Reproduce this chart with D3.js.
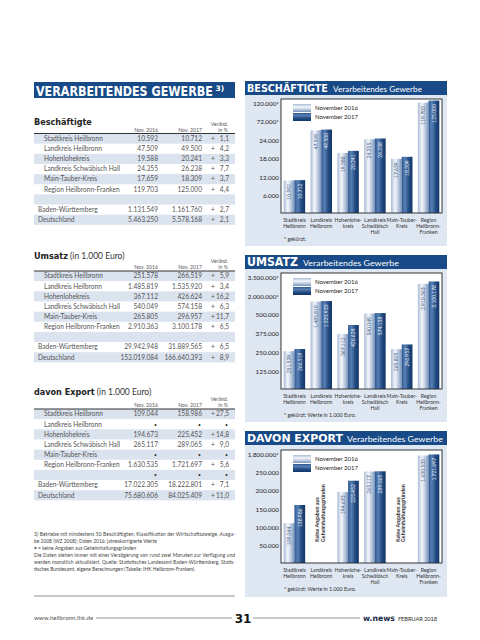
<!DOCTYPE html>
<html><head><meta charset="utf-8">
<script src="https://cdn.jsdelivr.net/npm/d3@7"></script>
<style>html,body{margin:0;padding:0;background:#fff;}svg{display:block;}</style>
</head><body>
<svg id="c" width="480" height="640"></svg>
<script>
// ---------- DATA ----------
const regions = ["Stadtkreis Heilbronn","Landkreis Heilbronn","Hohenlohekreis","Landkreis Schwäbisch Hall","Main-Tauber-Kreis","Region Heilbronn-Franken"];
const chartCategories = [["Stadtkreis","Heilbronn"],["Landkreis","Heilbronn"],["Hohenlohe-","kreis"],["Landkreis","Schwäbisch","Hall"],["Main-Tauber-","Kreis"],["Region","Heilbronn-","Franken"]];
const seriesNames = ["November 2016","November 2017"];
const totalsNames = ["Baden-Württemberg","Deutschland"];

const besch2016 = [10592,47509,19588,24355,17659,119703];
const besch2017 = [10712,49500,20241,26238,18309,125000];
const beschChange = [1.1,4.2,3.3,7.7,3.7,4.4];
const beschTot2016 = [1131549,5463250];
const beschTot2017 = [1161760,5578168];
const beschTotChange = [2.7,2.1];
const beschTicks = [6000,12000,18000,24000,72000,120000];
const beschTickLabels = ["6.000","12.000","18.000","24.000","72.000*","120.000*"];

const umsatz2016 = [251578,1485819,367112,540049,265805,2910363];
const umsatz2017 = [266519,1535920,426624,574158,296957,3100178];
const umsatzChange = [5.9,3.4,16.2,6.3,11.7,6.5];
const umsatzTot2016 = [29942948,153019084];
const umsatzTot2017 = [31889565,166640393];
const umsatzTotChange = [6.5,8.9];
const umsatzTicks = [125000,250000,375000,500000,2000000,3500000];
const umsatzTickLabels = ["125.000","250.000","375.000","500.000","2.000.000*","3.500.000*"];

const export2016 = [109044,null,194673,265117,null,1630535];
const export2017 = [158986,null,225452,289065,null,1721697];
const exportChange = [27.5,null,14.8,9.0,null,5.6];
const exportTot2016 = [17022305,75680606];
const exportTot2017 = [18222801,84025409];
const exportTotChange = [7.1,11.0];
const exportTicks = [50000,100000,150000,200000,250000,1800000];
const exportTickLabels = ["50.000","100.000","150.000","200.000","250.000","1.800.000*"];

const footnoteLines = [
 "3)   Betriebe mit mindestens 50 Beschäftigten, Klassifikation der Wirtschaftszweige, Ausga-",
 "be 2008 (WZ 2008); Daten 2016: jahreskorrigierte Werte",
 "• =  keine Angaben aus Geheimhaltungsgründen",
 "Die Daten stehen immer mit einer Verzögerung von rund zwei Monaten zur Verfügung und",
 "werden monatlich aktualisiert. Quelle: Statistisches Landesamt Baden-Württemberg, Statis-",
 "tisches Bundesamt, eigene Berechnungen (Tabelle: IHK Heilbronn-Franken)."
];

// ---------- SETUP ----------
const loc = d3.formatLocale({decimal:",",thousands:".",grouping:[3],currency:["","€"]});
const fInt = loc.format(",d");
const fPct = loc.format(",.1f");
const svg = d3.select("#c");
const FONT = "Lato, 'Open Sans', sans-serif";
const HEAD = "'DejaVu Sans', sans-serif";
const BLUE = "#174a86";
const PANEL = "#dfe7f2";
const SHADE = "#dbe3ef";
const TXT = "#5a5a5a";

// horizontally scale a text so its rendered width equals w (keeps bbox honest)
function fitWidth(sel, x, w){
  const n = sel.node().getComputedTextLength();
  if(n>0) sel.attr("transform",`translate(${x},0) scale(${w/n},1) translate(${-x},0)`);
  return sel;
}

const defs = svg.append("defs");
function grad(id, stops, vertical){
  const g = defs.append("linearGradient").attr("id",id)
    .attr("x1",0).attr("y1",0).attr("x2",vertical?0:1).attr("y2",vertical?1:0);
  stops.forEach(s=>g.append("stop").attr("offset",s[0]).attr("stop-color",s[1]));
}
const lightStops = [[0,"#a9bbd5"],[0.38,"#f4f7fb"],[0.7,"#b9c8dd"],[1,"#7892b9"]];
const darkStops = [[0,"#2b5790"],[0.3,"#5a80b3"],[0.65,"#234d85"],[1,"#123566"]];
grad("g16", lightStops, false);
grad("g17", darkStops, false);
grad("s16", lightStops, true);
grad("s17", darkStops, true);

// ---------- LEFT HEADER ----------
svg.append("rect").attr("x",34).attr("y",82).attr("width",201).attr("height",16).attr("fill",BLUE);
fitWidth(svg.append("text").attr("x",36).attr("y",96.5).attr("fill","#fff").attr("font-family",HEAD)
  .attr("font-weight","bold").attr("font-size",14.5).text("VERARBEITENDES GEWERBE"),36,177);
svg.append("text").attr("x",215.5).attr("y",90.5).attr("fill","#fff").attr("font-family",HEAD)
  .attr("font-weight","bold").attr("font-size",7.5).text("3)");

// ---------- TABLES ----------
function drawTable(cfg){
  const g = svg.append("g");
  const t = g.append("text").attr("x",34).attr("y",cfg.titleY).attr("fill","#222").attr("font-family",FONT);
  t.append("tspan").attr("font-weight","900").attr("font-size",9).attr("font-family","'Liberation Sans Narrow', 'DejaVu Sans Condensed', sans-serif").text(cfg.titleBold);
  if(cfg.titleRest) t.append("tspan").attr("font-size",8.5).attr("fill","#333").text(cfg.titleRest);
  const hdr = {"font-family":FONT,"font-size":5.2,"fill":TXT,"text-anchor":"end"};
  function txt(x,y,s,attrs){const e=g.append("text").attr("x",x).attr("y",y).text(s);Object.entries(Object.assign({},hdr,attrs||{})).forEach(([k,v])=>e.attr(k,v));return e;}
  txt(158,cfg.lineY-2,"Nov. 2016");
  txt(202,cfg.lineY-2,"Nov. 2017");
  txt(228,cfg.lineY-8,"Veränd.");
  txt(228,cfg.lineY-2,"in %");
  const rh = 10.15;
  const rows = [];
  regions.forEach((r,i)=>rows.push({name:r,a:cfg.v16[i],b:cfg.v17[i],c:cfg.chg[i],indent:true}));
  rows.push({blank:true});
  totalsNames.forEach((r,i)=>rows.push({name:r,a:cfg.t16[i],b:cfg.t17[i],c:cfg.tchg[i],indent:false}));
  rows.forEach((r,i)=>{
    const y0 = cfg.lineY + i*rh;
    if(i%2===0) g.append("rect").attr("x",34).attr("y",y0).attr("width",201).attr("height",rh).attr("fill",SHADE);
    const by = y0 + rh/2 + 2.3;
    const st = {"font-size":6.6,"fill":"#555"};
    if(r.blank){
      if(cfg.blankDots){ [157,201,228].forEach(x=>txt(x,by,"•",{"font-size":5,"fill":"#333"})); }
      return;
    }
    txt(r.indent?44:38,by,r.name,Object.assign({},st,{"text-anchor":"start"}));
    if(r.a==null){
      [157,201,228].forEach(x=>txt(x,by,"•",{"font-size":5,"fill":"#333"}));
    } else {
      txt(158,by,fInt(r.a),st);
      txt(202,by,fInt(r.b),st);
      txt(213,by,"+",Object.assign({},st,{"text-anchor":"middle"}));
      txt(229,by,fPct(r.c),st);
    }
  });
  g.append("line").attr("x1",34).attr("x2",235).attr("y1",cfg.lineY).attr("y2",cfg.lineY).attr("stroke","#333").attr("stroke-width",1);
}
drawTable({titleBold:"Beschäftigte",titleRest:"",titleY:124.5,lineY:133.5,v16:besch2016,v17:besch2017,chg:beschChange,t16:beschTot2016,t17:beschTot2017,tchg:beschTotChange});
drawTable({titleBold:"Umsatz",titleRest:" (in 1.000 Euro)",titleY:258.5,lineY:271,v16:umsatz2016,v17:umsatz2017,chg:umsatzChange,t16:umsatzTot2016,t17:umsatzTot2017,tchg:umsatzTotChange});
drawTable({titleBold:"davon Export",titleRest:" (in 1.000 Euro)",titleY:395,lineY:409,v16:export2016,v17:export2017,chg:exportChange,t16:exportTot2016,t17:exportTot2017,tchg:exportTotChange,blankDots:true});

// footnote
footnoteLines.forEach((l,i)=>{
  const e = svg.append("text").attr("x",34).attr("y",536+i*6.9).attr("font-family",FONT).attr("font-size",4.9).attr("fill","#444").text(l);
  if(i===0||i===3||i===4) e.attr("textLength",201).attr("lengthAdjust","spacing");
});
svg.append("line").attr("x1",34).attr("x2",235).attr("y1",596).attr("y2",596).attr("stroke","#777").attr("stroke-width",0.8);

// ---------- CHARTS ----------
function drawChart(cfg){
  const g = svg.append("g");
  // header
  g.append("rect").attr("x",245).attr("y",cfg.hTop).attr("width",202).attr("height",cfg.hH).attr("fill",BLUE);
  g.append("rect").attr("x",245).attr("y",cfg.hTop+cfg.hH).attr("width",202).attr("height",cfg.panelBottom-cfg.hTop-cfg.hH).attr("fill",PANEL);
  fitWidth(g.append("text").attr("x",247).attr("y",cfg.hBase).attr("fill","#fff").attr("font-family",HEAD).attr("font-weight","bold")
    .attr("font-size",cfg.tSize).text(cfg.title),247,cfg.tLen);
  fitWidth(g.append("text").attr("x",cfg.subX).attr("y",cfg.hBase).attr("fill","#fff").attr("font-family",FONT)
    .attr("font-size",cfg.subSize).text("Verarbeitendes Gewerbe"),cfg.subX,cfg.subLen);
  // plot
  const L=281,R=442,T=cfg.plotTop,B=cfg.plotBottom;
  g.append("rect").attr("x",L).attr("y",T).attr("width",R-L).attr("height",B-T).attr("fill","#fff");
  const tickTop = T+3.5;
  const step = (B-tickTop)/cfg.ticks.length;
  const y = d3.scaleLinear().domain([0].concat(cfg.ticks)).range(d3.range(cfg.ticks.length+1).map(i=>B-i*step));
  const x = d3.scaleBand().domain(d3.range(chartCategories.length)).range([L,R]).paddingInner(0.2).paddingOuter(0.1);
  const xs = d3.scaleBand().domain([0,1]).range([0,x.bandwidth()]);
  const ax = g.append("g").attr("transform",`translate(${L-1},0)`)
    .call(d3.axisLeft(y).tickValues(cfg.ticks).tickFormat((d,i)=>cfg.tickLabels[i]).tickSize(0).tickPadding(1));
  ax.select(".domain").remove();
  ax.selectAll("text").attr("font-family",FONT).attr("font-size",6.3).attr("fill","#222").attr("dy","0.45em");
  const data = [cfg.v16,cfg.v17];
  chartCategories.forEach((c,i)=>{
    data.forEach((arr,s)=>{
      const v = arr[i];
      if(v==null) return;
      const bx = x(i)+xs(s), bw = xs.bandwidth();
      g.append("rect").attr("x",bx).attr("y",y(v)).attr("width",bw).attr("height",B-y(v)).attr("fill",`url(#g${s?17:16})`);
      g.append("text").attr("transform",`translate(${bx+bw/2+1.8},${y(v)+3.5}) rotate(-90)`)
        .attr("text-anchor","end").attr("font-family",FONT).attr("font-size",5).attr("fill",s?"#e8eef7":"#4a6488").text(fInt(v));
    });
    if(cfg.v16[i]==null && cfg.v17[i]==null){
      ["Keine Angaben aus","Geheimhaltungsgründen"].forEach((l,k)=>{
        g.append("text").attr("transform",`translate(${x(i)+x.bandwidth()/2-2+k*5.6},${B-21}) rotate(-90)`)
          .attr("text-anchor","start").attr("font-family",FONT).attr("font-weight","bold").attr("font-size",5.3).attr("fill","#333").text(l);
      });
    }
    c.forEach((l,k)=>{
      g.append("text").attr("x",x(i)+x.bandwidth()/2).attr("y",B+8.8+k*6).attr("text-anchor","middle")
        .attr("font-family",FONT).attr("font-size",5.2).attr("fill","#333").text(l);
    });
  });
  g.append("rect").attr("x",L).attr("y",T).attr("width",R-L).attr("height",B-T).attr("fill","none").attr("stroke","#222").attr("stroke-width",0.9);
  // legend
  seriesNames.forEach((n,s)=>{
    const ly = T+5+s*9;
    g.append("rect").attr("x",293).attr("y",ly).attr("width",18).attr("height",8).attr("fill",`url(#s${s?17:16})`);
    g.append("text").attr("x",315).attr("y",ly+6).attr("font-family",FONT).attr("font-size",6).attr("fill","#222").text(n);
  });
  g.append("text").attr("x",284).attr("y",B+28).attr("font-family",FONT).attr("font-size",5.3).attr("fill","#333").text(cfg.note);
}
drawChart({title:"BESCHÄFTIGTE",tSize:10.5,tLen:81,subX:333,subSize:8,subLen:89,hTop:81,hH:14,hBase:92.5,panelBottom:246,
  plotTop:99,plotBottom:213,ticks:beschTicks,tickLabels:beschTickLabels,v16:besch2016,v17:besch2017,note:"* gekürzt."});
drawChart({title:"UMSATZ",tSize:11.5,tLen:51,subX:303,subSize:8.5,subLen:96,hTop:255,hH:14,hBase:266.5,panelBottom:422,
  plotTop:273,plotBottom:389,ticks:umsatzTicks,tickLabels:umsatzTickLabels,v16:umsatz2016,v17:umsatz2017,note:"* gekürzt: Werte in 1.000 Euro."});
drawChart({title:"DAVON EXPORT",tSize:11,tLen:96,subX:347,subSize:8.5,subLen:96,hTop:431,hH:14,hBase:442.5,panelBottom:597,
  plotTop:450,plotBottom:563,ticks:exportTicks,tickLabels:exportTickLabels,v16:export2016,v17:export2017,note:"* gekürzt: Werte in 1.000 Euro."});

// ---------- FOOTER ----------
svg.append("text").attr("x",34).attr("y",620).attr("font-family",FONT).attr("font-size",6.2).attr("fill","#555").text("www.heilbronn.ihk.de");
svg.append("line").attr("x1",96).attr("x2",232).attr("y1",618).attr("y2",618).attr("stroke","#666").attr("stroke-width",0.7);
svg.append("text").attr("x",243).attr("y",622.5).attr("text-anchor","middle").attr("font-family",HEAD).attr("font-weight","bold").attr("font-size",12).attr("fill","#111").text("31");
svg.append("line").attr("x1",253).attr("x2",360).attr("y1",618).attr("y2",618).attr("stroke","#666").attr("stroke-width",0.7);
fitWidth(svg.append("text").attr("x",363).attr("y",621).attr("font-family",HEAD).attr("font-weight","bold").attr("font-size",8).attr("fill","#1a2a4a")
  .text("w.news"),363,32);
svg.append("text").attr("x",398).attr("y",620.5).attr("font-family",FONT).attr("font-size",5.8).attr("fill","#333")
  .attr("textLength",39).attr("lengthAdjust","spacing").text("FEBRUAR 2018");
</script>
</body></html>
